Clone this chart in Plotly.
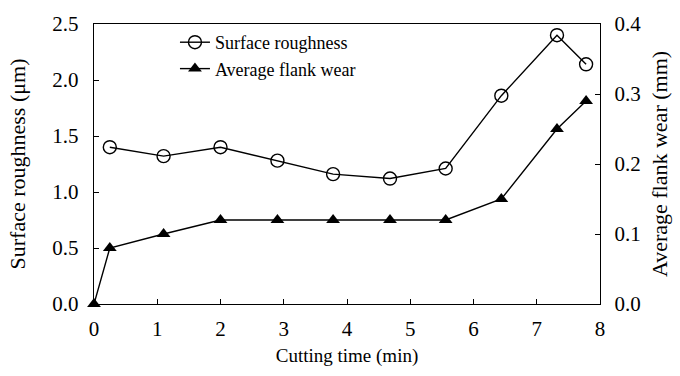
import plotly.graph_objects as go

time_sr = [0.25, 1.1, 2.0, 2.9, 3.78, 4.68, 5.56, 6.44, 7.32, 7.78]
roughness = [1.40, 1.32, 1.40, 1.28, 1.16, 1.12, 1.21, 1.86, 2.40, 2.14]

time_fw = [0.0, 0.25, 1.1, 2.0, 2.9, 3.78, 4.68, 5.56, 6.44, 7.32, 7.78]
flank_wear = [0.0, 0.08, 0.10, 0.12, 0.12, 0.12, 0.12, 0.12, 0.15, 0.25, 0.29]

FONT = "Liberation Serif"

fig = go.Figure()
fig.add_trace(go.Scatter(
    x=time_sr, y=roughness, name="Surface roughness", mode="lines+markers",
    line=dict(color="black", width=1.4),
    marker=dict(symbol="circle-open", size=13, color="black", line=dict(width=1.4)),
    cliponaxis=False,
))
fig.add_trace(go.Scatter(
    x=time_fw, y=flank_wear, name="Average flank wear", mode="lines+markers",
    yaxis="y2",
    line=dict(color="black", width=1.4),
    marker=dict(symbol="triangle-up", size=12, color="black"),
    cliponaxis=False,
))

axis_common = dict(
    showline=True, linecolor="black", linewidth=1.4,
    ticks="inside", ticklen=5, tickwidth=1.4, tickcolor="black",
    showgrid=False, zeroline=False,
    tickfont=dict(family=FONT, size=21, color="black"),
)

fig.update_layout(
    width=680, height=376,
    margin=dict(l=94, r=80, t=21, b=72),
    paper_bgcolor="white", plot_bgcolor="white",
    font=dict(family=FONT, color="black"),
    showlegend=True,
    legend=dict(
        x=0.16, y=1.0, xanchor="left", yanchor="top",
        bgcolor="rgba(0,0,0,0)", font=dict(family=FONT, size=18, color="black"),
        itemwidth=30, tracegroupgap=0,
    ),
    xaxis=dict(
        range=[0, 8], dtick=1, mirror=True, ticklabelstandoff=6,
        title=dict(text="Cutting time (min)", font=dict(family=FONT, size=19, color="black"), standoff=8),
        **axis_common,
    ),
    yaxis=dict(
        range=[0, 2.5], dtick=0.5, tickformat=".1f", ticklabelstandoff=10,
        title=dict(text="Surface roughness (μm)", font=dict(family=FONT, size=22, color="black"), standoff=20),
        **axis_common,
    ),
    yaxis2=dict(
        range=[0, 0.4], dtick=0.1, tickformat=".1f", overlaying="y", side="right",
        ticklabelstandoff=9,
        title=dict(text="Average flank wear (mm)", font=dict(family=FONT, size=22, color="black"), standoff=11),
        **axis_common,
    ),
)

fig.write_html("out.html")
